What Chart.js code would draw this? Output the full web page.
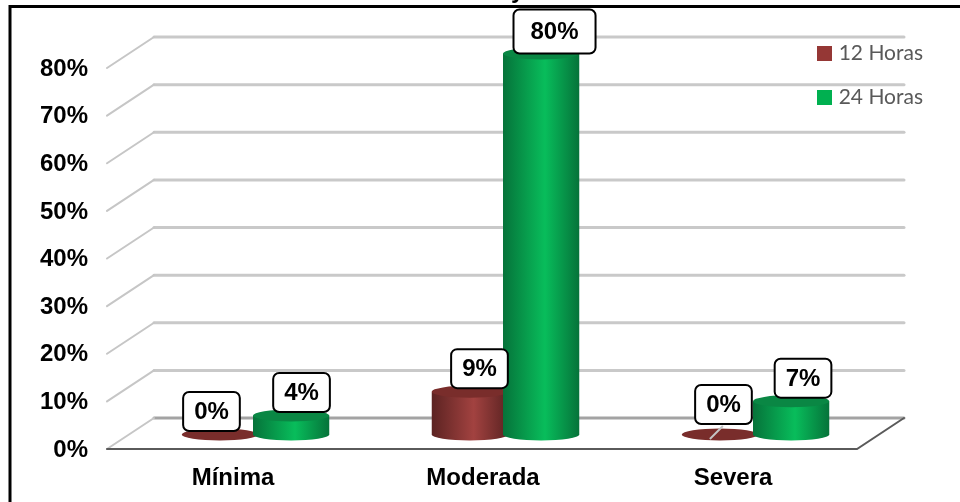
<!DOCTYPE html>
<html>
<head>
<meta charset="utf-8">
<title>Severidad por horas</title>
<script src="https://cdn.jsdelivr.net/npm/chart.js@4/dist/chart.umd.min.js"></script>
<style>
    html, body { margin: 0; padding: 0; background: #fff; }
    canvas { display: block; }
</style>
</head>
<body>
<canvas id="chartCanvas" width="960" height="502"></canvas>
<script>
const categories = ['Mínima', 'Moderada', 'Severa'];
const horas12 = [0, 9, 0];
const horas24 = [4, 80, 7];
const yTicks = [0, 10, 20, 30, 40, 50, 60, 70, 80];

// how the callouts sit relative to the top of their bar: [dx, dy, extra width, height]
const callouts12 = [[-8.4, -23, 0, 39], [9.6, -23, 0, 39], [3.6, -30, 0, 39]];
const callouts24 = [[10.4, -23, 0, 39], [13.4, -22, 12, 44], [11.9, -23, 0, 39]];

// the floor and back wall are pushed back by this much, the bars stand halfway in
const depthX = 47;
const depthY = 31;
const barShiftX = 23.5;
const barShiftY = 14.5;
const barOverlap = 2.5;
const capRy = 6;
const labelFont = 'bold 24px "Liberation Sans", Arial, sans-serif';

// maroon / green tones of the cylinders
const tones = [
    { edge: '#5c2322', mid: '#a24240', cap: '#792d2b' },
    { edge: '#06733a', mid: '#08bd5b', cap: '#0a8744' }
];

function cylinder(ctx, bar, tone) {
    const rx = bar.width / 2 + barOverlap;
    const x = bar.x + barShiftX;
    const top = bar.y - barShiftY;
    const base = bar.base - barShiftY;

    if (base - top > 1) {
        const grad = ctx.createLinearGradient(x - rx, 0, x + rx, 0);
        grad.addColorStop(0, tone.edge);
        grad.addColorStop(0.55, tone.mid);
        grad.addColorStop(1, tone.edge);
        ctx.fillStyle = grad;
        ctx.beginPath();
        ctx.moveTo(x - rx, top);
        ctx.lineTo(x - rx, base);
        ctx.ellipse(x, base, rx, capRy, 0, Math.PI, 0, true);
        ctx.lineTo(x + rx, top);
        ctx.closePath();
        ctx.fill();
    }
    ctx.fillStyle = tone.cap;
    ctx.beginPath();
    ctx.ellipse(x, top, rx, capRy, 0, 0, Math.PI * 2);
    ctx.fill();
}

function callout(ctx, bar, text, spec) {
    const cx = bar.x + barShiftX + spec[0];
    const cy = bar.y - barShiftY + spec[1];
    ctx.font = labelFont;
    const w = ctx.measureText(text).width + 22 + spec[2];
    const h = spec[3];
    ctx.beginPath();
    ctx.roundRect(cx - w / 2, cy - h / 2, w, h, 6);
    ctx.fillStyle = '#fff';
    ctx.fill();
    ctx.lineWidth = 2;
    ctx.strokeStyle = '#000';
    ctx.stroke();
    ctx.fillStyle = '#000';
    ctx.textAlign = 'center';
    ctx.textBaseline = 'middle';
    ctx.fillText(text, cx, cy + 1);
}

// back wall, side wall and floor, then the cylinders on top
const wallPlugin = {
    id: 'wall',
    beforeDatasetsDraw(chart) {
        const { ctx, chartArea, scales } = chart;
        const left = chartArea.left;
        const right = chartArea.right;
        ctx.save();
        ctx.lineCap = 'round';
        yTicks.forEach(v => {
            const y = scales.y.getPixelForValue(v);
            ctx.strokeStyle = v === 0 ? '#a3a3a3' : '#c9c9c9';
            ctx.lineWidth = 3;
            ctx.beginPath();
            ctx.moveTo(left + depthX, y - depthY);
            ctx.lineTo(right + depthX, y - depthY);
            ctx.stroke();
            ctx.strokeStyle = '#c6c6c6';
            ctx.lineWidth = 2;
            ctx.beginPath();
            ctx.moveTo(left, y);
            ctx.lineTo(left + depthX, y - depthY);
            ctx.stroke();
        });
        const y0 = scales.y.getPixelForValue(0);
        ctx.strokeStyle = '#5a5a5a';
        ctx.lineWidth = 2;
        ctx.beginPath();
        ctx.moveTo(left, y0);
        ctx.lineTo(right, y0);
        ctx.lineTo(right + depthX, y0 - depthY);
        ctx.stroke();

        // first series underneath, second one overlaps it
        chart.data.datasets.forEach((ds, i) => {
            chart.getDatasetMeta(i).data.forEach(bar => cylinder(ctx, bar, tones[i]));
        });
        ctx.restore();
    },
    // the cylinders replace the stock rectangles
    beforeDatasetDraw() {
        return false;
    },
    afterDatasetsDraw(chart) {
        const { ctx } = chart;
        const bars12 = chart.getDatasetMeta(0).data;
        const bars24 = chart.getDatasetMeta(1).data;
        ctx.save();
        // leader of the Severa callout
        const b = bars12[2];
        ctx.strokeStyle = '#c4c4c4';
        ctx.lineWidth = 2;
        ctx.beginPath();
        ctx.moveTo(b.x + barShiftX + 3, b.y - barShiftY - 8.5);
        ctx.lineTo(b.x + barShiftX - 10, b.y - barShiftY + 4.5);
        ctx.stroke();
        bars12.forEach((bar, i) => callout(ctx, bar, horas12[i] + '%', callouts12[i]));
        bars24.forEach((bar, i) => callout(ctx, bar, horas24[i] + '%', callouts24[i]));
        ctx.restore();
    },
    afterDraw(chart) {
        // frame around the chart, running off the right and bottom of the page,
        // with the tail of the heading letter cut off above it
        const { ctx } = chart;
        ctx.save();
        ctx.strokeStyle = '#000';
        ctx.lineWidth = 3;
        ctx.beginPath();
        ctx.moveTo(10, 510);
        ctx.lineTo(10, 6.5);
        ctx.lineTo(970, 6.5);
        ctx.stroke();
        ctx.fillStyle = '#000';
        ctx.font = labelFont;
        ctx.textAlign = 'left';
        ctx.textBaseline = 'alphabetic';
        ctx.fillText('y', 511, -2.5);
        ctx.restore();
    },
    afterLayout(chart) {
        // legend sits in the top right corner, over the wall
        const legend = chart.legend;
        const pad = legend.options.labels.padding;
        legend.left = 817 - pad;
        legend.right = 923;
        legend.top = 43 - pad;
        legend.bottom = 200;
    }
};

new Chart(document.getElementById('chartCanvas'), {
    type: 'bar',
    data: {
        labels: categories,
        datasets: [
            { label: '12 Horas', data: horas12, backgroundColor: '#953735', categoryPercentage: 0.57, barPercentage: 1 },
            { label: '24 Horas', data: horas24, backgroundColor: '#00b050', categoryPercentage: 0.57, barPercentage: 1 }
        ]
    },
    options: {
        responsive: false,
        animation: false,
        layout: { padding: { top: 68, right: 103, bottom: 0, left: 0 } },
        scales: {
            y: {
                min: 0,
                max: 80,
                afterFit(scale) { scale.width = 107; },
                grid: { display: false },
                border: { display: false },
                ticks: {
                    stepSize: 10,
                    padding: 11,
                    labelOffset: 1,
                    color: '#000',
                    font: { family: '"Liberation Sans", Arial, sans-serif', size: 24, weight: 'bold' },
                    callback: value => value + '%'
                }
            },
            x: {
                afterFit(scale) { scale.height = 53; },
                grid: { display: false },
                border: { display: false },
                ticks: {
                    padding: 7,
                    labelOffset: 1,
                    color: '#000',
                    maxRotation: 0,
                    font: { family: '"Liberation Sans", Arial, sans-serif', size: 24, weight: 'bold' }
                }
            }
        },
        plugins: {
            title: { display: false },
            tooltip: { enabled: false },
            legend: {
                position: 'chartArea',
                align: 'start',
                labels: {
                    boxWidth: 15,
                    boxHeight: 15,
                    padding: 23,
                    color: '#595959',
                    textAlign: 'right',
                    font: { family: 'Lato, "Open Sans", sans-serif', size: 21 }
                }
            }
        }
    },
    plugins: [wallPlugin]
});
</script>
</body>
</html>
